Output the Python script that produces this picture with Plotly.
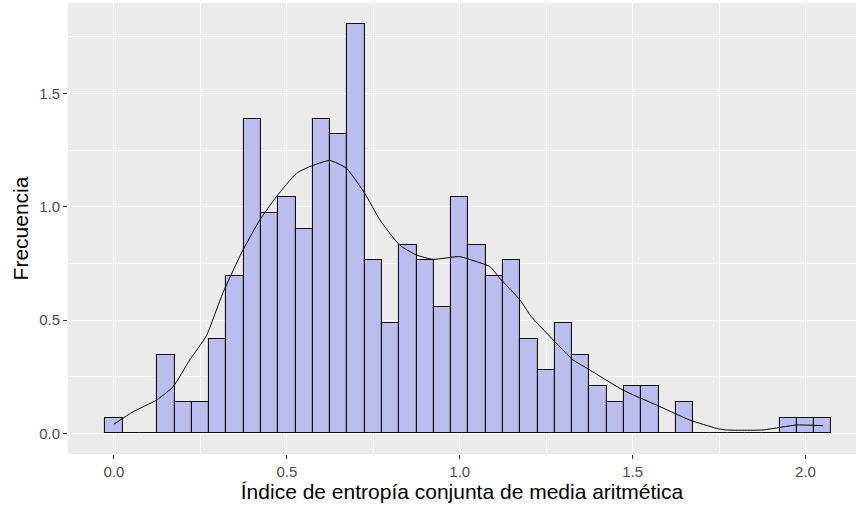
import plotly.graph_objects as go

# Histogram (binwidth 0.05), counts per bin centre
bin_centers = [round(0.05 * i, 2) for i in range(42)]
counts = [1, 0, 0, 5, 2, 2, 6, 10, 20, 14, 15, 13, 20, 19, 26, 11, 7, 12, 11, 8,
          15, 12, 10, 11, 6, 4, 7, 5, 3, 2, 3, 3, 0, 2, 0, 0, 0, 0, 0, 1, 1, 1]
binwidth = 0.05
n_total = sum(counts)
density_bars = [c / (n_total * binwidth) for c in counts]

# Density curve
dens_x = [0.0, 0.055, 0.123, 0.171, 0.219, 0.267, 0.315, 0.37, 0.421, 0.47, 0.528,
          0.566, 0.624, 0.672, 0.725, 0.769, 0.826, 0.875, 0.923, 0.999, 1.048,
          1.087, 1.116, 1.174, 1.207, 1.28, 1.328, 1.376, 1.472, 1.569, 1.665,
          1.743, 1.771, 1.877, 1.925, 1.974, 2.051]
dens_y = [0.041, 0.095, 0.147, 0.206, 0.324, 0.43, 0.62, 0.80, 0.94, 1.045, 1.148,
          1.177, 1.204, 1.17, 1.06, 0.942, 0.831, 0.787, 0.768, 0.78, 0.758,
          0.736, 0.684, 0.589, 0.515, 0.397, 0.324, 0.28, 0.191, 0.125, 0.059,
          0.022, 0.015, 0.015, 0.026, 0.037, 0.034]

x_ticks = [0.0, 0.5, 1.0, 1.5, 2.0]
y_ticks = [0.0, 0.5, 1.0, 1.5]

FONT = "Liberation Sans, Arial, sans-serif"

fig = go.Figure()
fig.add_trace(go.Bar(
    x=bin_centers, y=density_bars, width=binwidth,
    marker=dict(color="#BCBCEE", line=dict(color="#111111", width=1.1)),
    hoverinfo="x+y", showlegend=False,
))
fig.add_trace(go.Scatter(
    x=dens_x, y=dens_y, mode="lines",
    line=dict(color="black", width=1, shape="spline", smoothing=0.5),
    showlegend=False,
))

fig.update_layout(
    width=856, height=514,
    margin=dict(l=68, r=0, t=3, b=60),
    paper_bgcolor="white", plot_bgcolor="#EBEBEB",
    bargap=0, font=dict(family=FONT, size=15, color="#4D4D4D"),
)
fig.update_xaxes(
    range=[-0.133, 2.146], tickvals=x_ticks, ticktext=[f"{v:.1f}" for v in x_ticks],
    ticks="outside", ticklen=4, tickwidth=1, tickcolor="#333333",
    showgrid=True, gridcolor="white", gridwidth=1.2, zeroline=False, showline=False,
    minor=dict(tickvals=[0.25, 0.75, 1.25, 1.75], showgrid=True, gridcolor="white", gridwidth=0.6, ticks=""),
    tickfont=dict(family=FONT, size=15, color="#4D4D4D"),
    title=dict(text="Índice de entropía conjunta de media aritmética",
               font=dict(family=FONT, size=21, color="black"), standoff=4),
)
fig.update_yaxes(
    range=[-0.091, 1.899], tickvals=y_ticks, ticktext=[f"{v:.1f}" for v in y_ticks],
    ticks="outside", ticklen=4, tickwidth=1, tickcolor="#333333",
    showgrid=True, gridcolor="white", gridwidth=1.2, zeroline=False, showline=False,
    minor=dict(tickvals=[0.25, 0.75, 1.25, 1.75], showgrid=True, gridcolor="white", gridwidth=0.6, ticks=""),
    tickfont=dict(family=FONT, size=15, color="#4D4D4D"),
    title=dict(text="Frecuencia", font=dict(family=FONT, size=21, color="black"), standoff=4),
)

fig.write_html("out.html")
